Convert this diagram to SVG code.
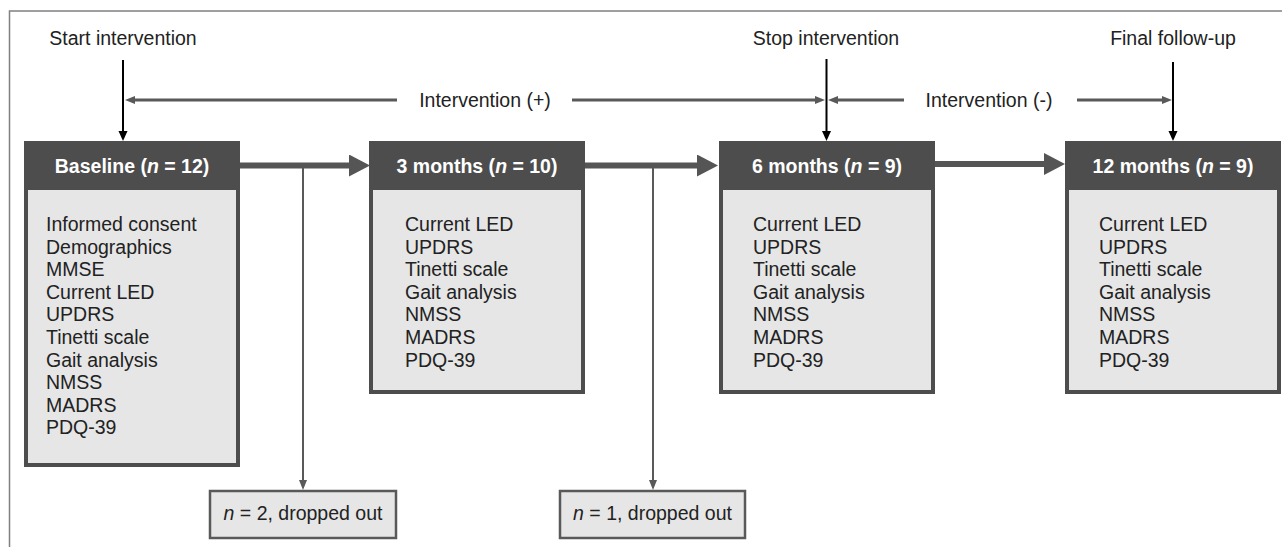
<svg xmlns="http://www.w3.org/2000/svg" width="1282" height="547" viewBox="0 0 1282 547">
<style>
text{font-family:"Liberation Sans",Arial,Helvetica,sans-serif;font-size:19.5px;fill:#222}
.hd{font-weight:bold;fill:#fff;text-anchor:middle}
.lbl{text-anchor:middle}
.body{fill:#e6e6e6;stroke:#4d4d4d;stroke-width:4}
.head{fill:#4d4d4d}
.drop{fill:#e6e6e6;stroke:#595959;stroke-width:2.5}
.thick{stroke:#555;stroke-width:6;fill:none}
.thin{stroke:#595959;stroke-width:3;fill:none}
.blk{stroke:#000;stroke-width:2;fill:none}
.dl{stroke:#595959;stroke-width:2;fill:none}
</style>
<defs>
<marker id="mThick" markerUnits="userSpaceOnUse" markerWidth="22" markerHeight="23" refX="0" refY="11" orient="auto"><path d="M0,0 L21,11 L0,22 z" fill="#555"/></marker>
<marker id="mGray" markerUnits="userSpaceOnUse" markerWidth="10" markerHeight="9" refX="0" refY="4" orient="auto"><path d="M0,0 L10,4 L0,8 z" fill="#595959"/></marker>
<marker id="mBlk" markerUnits="userSpaceOnUse" markerWidth="10" markerHeight="10" refX="0" refY="4.5" orient="auto"><path d="M0,0 L10,4.5 L0,9 z" fill="#000"/></marker>
<marker id="mDl" markerUnits="userSpaceOnUse" markerWidth="10" markerHeight="9" refX="0" refY="4" orient="auto"><path d="M0,0 L10,4 L0,8 z" fill="#595959"/></marker>
</defs>
<rect width="1282" height="547" fill="#fff"/>
<path d="M9.5,547 V11 H1282" fill="none" stroke="#808080" stroke-width="1.5"/>

<g id="labels">
<text class="lbl" x="123" y="45">Start intervention</text>
<text class="lbl" x="826" y="45">Stop intervention</text>
<text class="lbl" x="1173" y="45">Final follow-up</text>
<text class="lbl" x="485" y="107">Intervention (+)</text>
<text class="lbl" x="989" y="107">Intervention (-)</text>
</g>

<g id="connectors">
<path class="thin" d="M397,100 H135" marker-end="url(#mGray)"/>
<path class="thin" d="M572,100 H815" marker-end="url(#mGray)"/>
<path class="thin" d="M904,100 H838" marker-end="url(#mGray)"/>
<path class="thin" d="M1077,100 H1162" marker-end="url(#mGray)"/>
<path class="blk" d="M123,60 V131" marker-end="url(#mBlk)"/>
<path class="blk" d="M826.5,59 V131" marker-end="url(#mBlk)"/>
<path class="blk" d="M1173,62 V131" marker-end="url(#mBlk)"/>
<path class="thick" d="M240,165.5 H349" marker-end="url(#mThick)"/>
<path class="thick" d="M585,165.5 H697" marker-end="url(#mThick)"/>
<path class="thick" d="M935,164 H1044" marker-end="url(#mThick)"/>
<path class="dl" d="M303,168 V480" marker-end="url(#mDl)"/>
<path class="dl" d="M653,168 V480" marker-end="url(#mDl)"/>
</g>

<g id="baseline">
<rect class="body" x="26" y="143" width="212" height="322"/>
<rect class="head" x="24" y="141" width="216" height="49"/>
<text class="hd" x="132" y="172.5">Baseline (<tspan font-style="italic">n</tspan> = 12)</text>
<text x="46" y="231">Informed consent</text>
<text x="46" y="253.6">Demographics</text>
<text x="46" y="276.2">MMSE</text>
<text x="46" y="298.8">Current LED</text>
<text x="46" y="321.4">UPDRS</text>
<text x="46" y="344">Tinetti scale</text>
<text x="46" y="366.6">Gait analysis</text>
<text x="46" y="389.2">NMSS</text>
<text x="46" y="411.8">MADRS</text>
<text x="46" y="434.4">PDQ-39</text>
</g>

<g id="m3">
<rect class="body" x="371" y="143" width="212" height="249"/>
<rect class="head" x="369" y="141" width="216" height="49"/>
<text class="hd" x="477" y="172.5">3 months (<tspan font-style="italic">n</tspan> = 10)</text>
<text x="405" y="231">Current LED</text>
<text x="405" y="253.6">UPDRS</text>
<text x="405" y="276.2">Tinetti scale</text>
<text x="405" y="298.8">Gait analysis</text>
<text x="405" y="321.4">NMSS</text>
<text x="405" y="344">MADRS</text>
<text x="405" y="366.6">PDQ-39</text>
</g>

<g id="m6">
<rect class="body" x="721" y="143" width="212" height="249"/>
<rect class="head" x="719" y="141" width="216" height="49"/>
<text class="hd" x="827" y="172.5">6 months (<tspan font-style="italic">n</tspan> = 9)</text>
<text x="753" y="231">Current LED</text>
<text x="753" y="253.6">UPDRS</text>
<text x="753" y="276.2">Tinetti scale</text>
<text x="753" y="298.8">Gait analysis</text>
<text x="753" y="321.4">NMSS</text>
<text x="753" y="344">MADRS</text>
<text x="753" y="366.6">PDQ-39</text>
</g>

<g id="m12">
<rect class="body" x="1067" y="143" width="212" height="249"/>
<rect class="head" x="1065" y="141" width="216" height="49"/>
<text class="hd" x="1173" y="172.5">12 months (<tspan font-style="italic">n</tspan> = 9)</text>
<text x="1099" y="231">Current LED</text>
<text x="1099" y="253.6">UPDRS</text>
<text x="1099" y="276.2">Tinetti scale</text>
<text x="1099" y="298.8">Gait analysis</text>
<text x="1099" y="321.4">NMSS</text>
<text x="1099" y="344">MADRS</text>
<text x="1099" y="366.6">PDQ-39</text>
</g>

<g id="drop1">
<rect class="drop" x="210" y="491" width="186" height="47"/>
<text class="lbl" x="303" y="520"><tspan font-style="italic">n</tspan> = 2, dropped out</text>
</g>

<g id="drop2">
<rect class="drop" x="560" y="491" width="185" height="47"/>
<text class="lbl" x="652.5" y="520"><tspan font-style="italic">n</tspan> = 1, dropped out</text>
</g>
</svg>
